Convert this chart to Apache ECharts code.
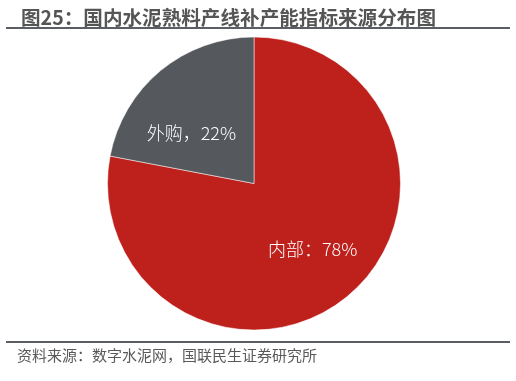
<!DOCTYPE html>
<html>
<head>
<meta charset="utf-8">
<script src="https://cdn.jsdelivr.net/npm/echarts@6/dist/echarts.min.js"></script>
<style>
html,body{margin:0;padding:0;background:#fff;}
#chart{width:516px;height:381px;}
</style>
</head>
<body>
<div id="chart"></div>
<script>
const titleText = '图25：国内水泥熟料产线补产能指标来源分布图';
const sourceText = '资料来源：数字水泥网，国联民生证券研究所';
const categories = ['内部', '外购'];
const values = [78, 22];
const sepChars = ['：', '，'];
const colors = ['#BE211C', '#55585D'];
const labelOffsets = [[10, 7], [-14, 8]];

const chart = echarts.init(document.getElementById('chart'), null, {renderer: 'canvas'});
const fontFamily = '"Noto Sans CJK SC", "Noto Sans", sans-serif';

chart.setOption({
  animation: false,
  title: {
    text: titleText,
    left: 16,
    top: 3,
    textStyle: {fontSize: 19.6, fontWeight: 'bold', color: '#555555', fontFamily: fontFamily}
  },
  graphic: [
    {type: 'line', shape: {x1: 6, y1: 28, x2: 510, y2: 28}, style: {stroke: '#5A5E63', lineWidth: 2}},
    {type: 'line', shape: {x1: 6, y1: 342, x2: 510, y2: 342}, style: {stroke: '#5A5E63', lineWidth: 2}},
    {type: 'text', left: 17, top: 348, style: {text: sourceText, fontSize: 15, fill: '#595959', fontFamily: fontFamily}}
  ],
  series: [{
    type: 'pie',
    center: [254, 183.5],
    radius: [0, 146.5],
    startAngle: 90,
    clockwise: true,
    itemStyle: {borderColor: '#ffffff', borderWidth: 0.5},
    label: {
      show: true,
      position: 'inside',
      color: '#ffffff',
      fontSize: 18,
      fontWeight: 300,
      fontFamily: fontFamily
    },
    labelLine: {show: false},
    emphasis: {disabled: true},
    data: categories.map((c, i) => ({
      name: c,
      value: values[i],
      itemStyle: {color: colors[i]},
      label: {formatter: c + sepChars[i] + values[i] + '%', offset: labelOffsets[i]}
    }))
  }]
});
</script>
</body>
</html>
